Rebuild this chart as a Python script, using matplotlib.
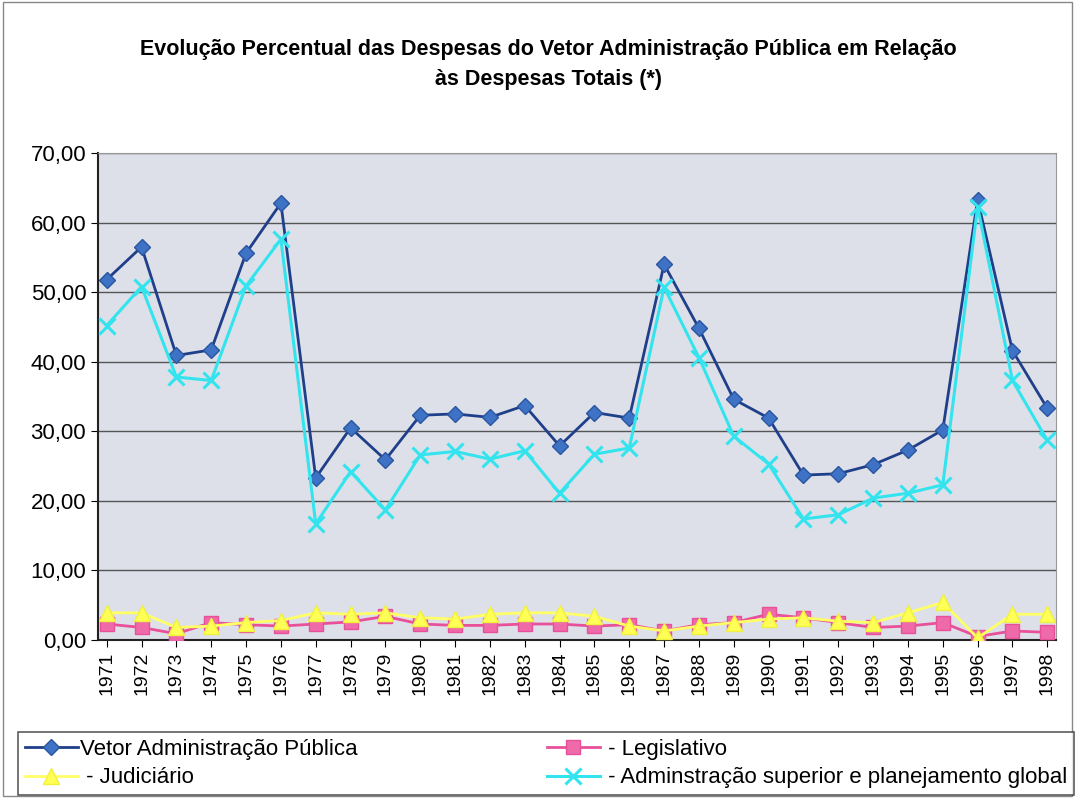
import matplotlib
matplotlib.use("Agg")
import matplotlib.pyplot as plt
from matplotlib.patches import Rectangle
from matplotlib.ticker import FuncFormatter

plt.rcParams['font.family'] = ['Liberation Sans', 'DejaVu Sans']

# data
anos = list(range(1971, 1999))
vetor = [51.8, 56.5, 40.9, 41.7, 55.6, 62.8, 23.3, 30.5, 25.9, 32.3, 32.5, 32.0, 33.7, 27.9,
         32.7, 31.9, 54.0, 44.8, 34.6, 31.9, 23.7, 23.9, 25.2, 27.3, 30.2, 63.3, 41.6, 33.3]
legislativo = [2.3, 1.8, 0.9, 2.5, 2.2, 2.0, 2.3, 2.6, 3.4, 2.3, 2.1, 2.1, 2.3, 2.3,
               2.0, 2.2, 1.3, 2.2, 2.5, 3.7, 3.2, 2.5, 1.8, 2.0, 2.5, 0.5, 1.3, 1.1]
judiciario = [3.9, 3.9, 1.8, 2.0, 2.5, 2.8, 3.9, 3.7, 3.9, 3.2, 3.0, 3.7, 3.9, 3.9,
              3.4, 2.0, 1.3, 2.0, 2.5, 3.0, 3.2, 2.7, 2.5, 3.9, 5.4, 0.3, 3.7, 3.7]
admin_sup = [45.2, 50.8, 37.8, 37.3, 50.9, 57.6, 16.7, 24.2, 18.7, 26.6, 27.1, 26.0, 27.2, 21.1,
             26.7, 27.6, 50.7, 40.6, 29.3, 25.3, 17.4, 18.0, 20.4, 21.1, 22.3, 62.3, 37.3, 28.7]

fig = plt.figure(figsize=(10.75, 7.98), dpi=100)
ax = fig.add_axes([98 / 1075, 1 - 640 / 798, (1056 - 98) / 1075, (640 - 153) / 798])
ax.set_facecolor('#dde0e8')

h1, = ax.plot(anos, vetor, color='#1f3f8a', lw=2, marker='D', ms=8,
              mfc='#3d72c4', mec='#2a55a0', label='Vetor Administração Pública', zorder=3)
h2, = ax.plot(anos, legislativo, color='#e8509a', lw=2, marker='s', ms=10,
              mfc='#ee6aa8', mec='#e8509a', label=' - Legislativo', zorder=3)
h3, = ax.plot(anos, judiciario, color='#ffff66', lw=2, marker='^', ms=11,
              mfc='#ffff55', mec='#f0f040', label=' - Judiciário', zorder=3.2)
h4, = ax.plot(anos, admin_sup, color='#33e4ee', lw=2.2, marker='x', ms=11, mew=2.2,
              label=' - Adminstração superior e planejamento global', zorder=3.1)

ax.set_xlim(1971 - 0.25, 1998 + 0.25)
ax.set_ylim(0, 70)
ax.set_yticks(range(0, 71, 10))
ax.yaxis.set_major_formatter(FuncFormatter(lambda v, p: f"{v:.2f}".replace('.', ',')))
ax.set_xticks(anos)
ax.set_xticklabels([str(a) for a in anos], rotation=90, fontsize=14)
ax.tick_params(axis='y', labelsize=16, length=5, direction='out')
ax.tick_params(axis='x', length=5, direction='out')
ax.yaxis.grid(True, color='#555555', lw=1)
ax.set_axisbelow(True)
for s in ['top', 'right']:
    ax.spines[s].set_color('#999999')
for s in ['left', 'bottom']:
    ax.spines[s].set_color('#222222')
    ax.spines[s].set_linewidth(1.5)

fig.text(0.51, 1 - 50 / 798, 'Evolução Percentual das Despesas do Vetor Administração Pública em Relação',
         ha='center', va='center', fontsize=15.5, fontweight='bold')
fig.text(0.51, 1 - 79 / 798, 'às Despesas Totais (*)',
         ha='center', va='center', fontsize=15.5, fontweight='bold')

leg = fig.legend(handles=[h1, h3, h2, h4], ncol=2, loc='lower left',
                 bbox_to_anchor=(18 / 1075, 3 / 798),
                 fontsize=16, frameon=True, fancybox=False,
                 handlelength=2.4, handletextpad=0.1, borderaxespad=0, columnspacing=8.5,
                 borderpad=0.3, labelspacing=0.35)
leg.get_frame().set_edgecolor('#333333')
leg.get_frame().set_linewidth(1.2)

fig.patches.append(Rectangle((3 / 1075, 2 / 798), 1 - 6 / 1075, 1 - 4 / 798,
                             transform=fig.transFigure, fill=False, ec='#888888', lw=1))

fig.savefig('out.png', dpi=100)
